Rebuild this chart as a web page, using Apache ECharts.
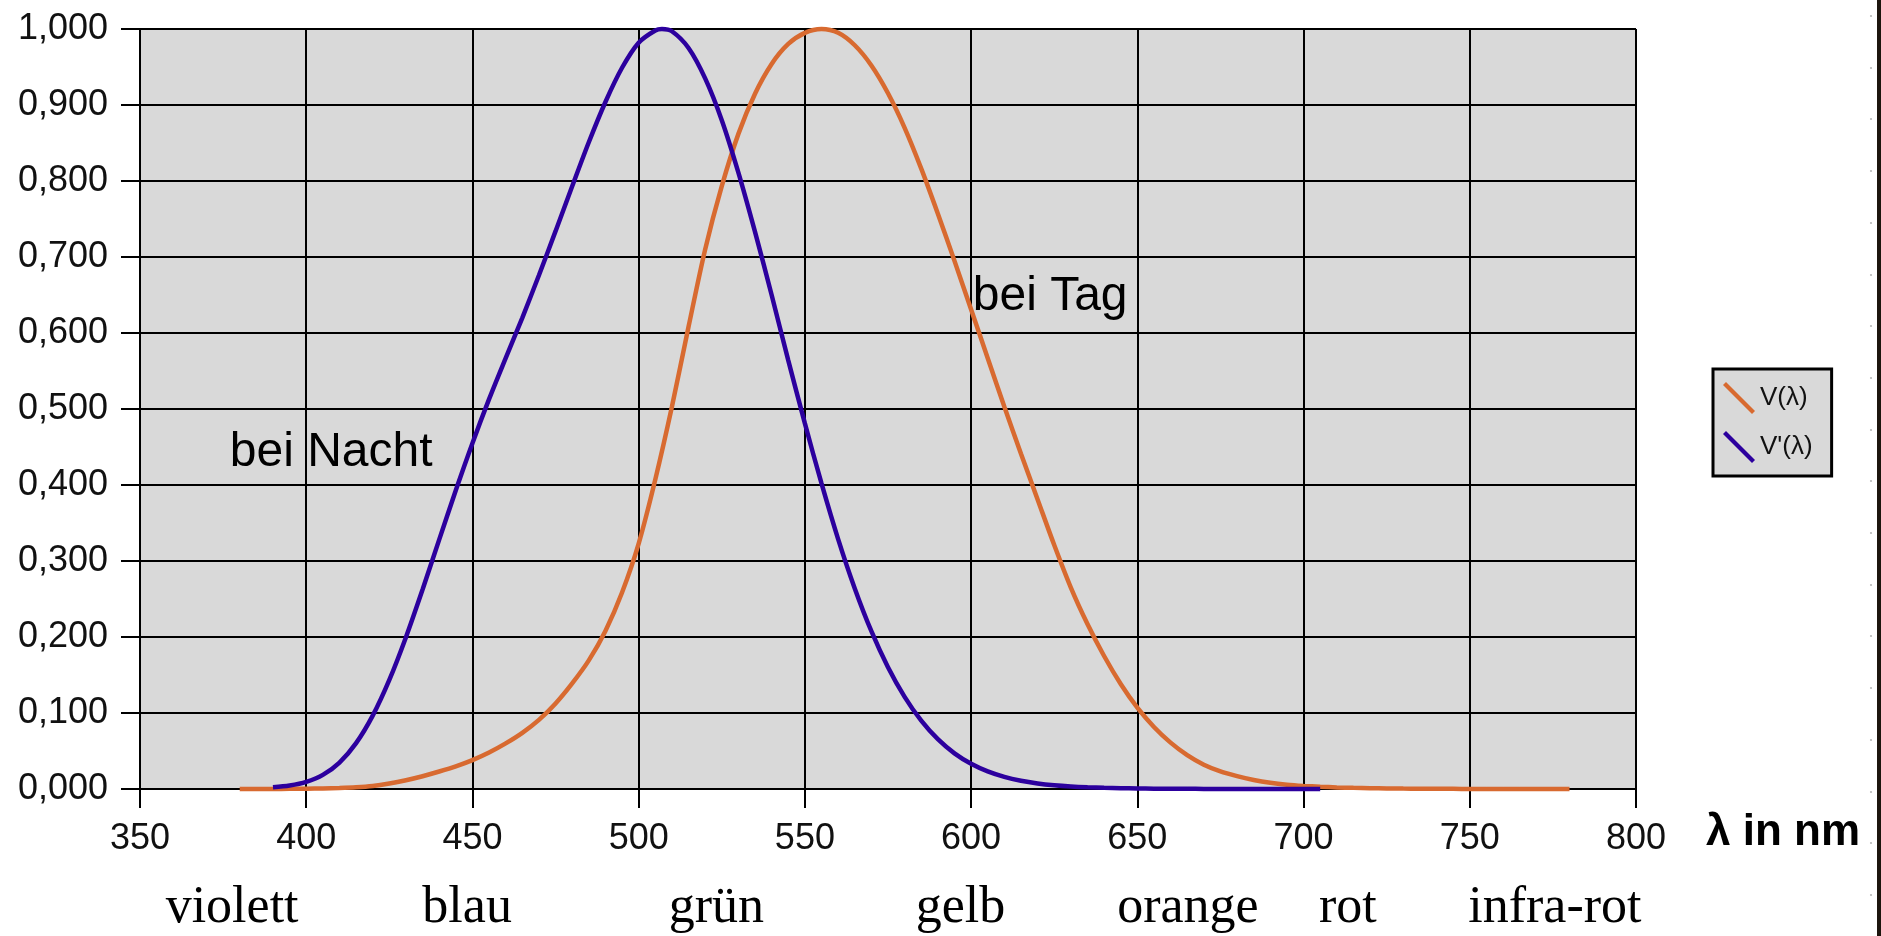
<!DOCTYPE html>
<html>
<head>
<meta charset="utf-8">
<title>Hellempfindlichkeitskurven V(λ) und V'(λ)</title>
<script src="https://cdn.jsdelivr.net/npm/echarts@6/dist/echarts.min.js"></script>
<style>
  html, body { margin: 0; padding: 0; background: #fff; }
  #chart { width: 1881px; height: 936px; }
</style>
</head>
<body>
<div id="chart"></div>
<script>
// Photopic luminous efficiency V(λ), daylight vision, 5 nm steps
const photopicNm = [380, 385, 390, 395, 400, 405, 410, 415, 420, 425, 430, 435, 440, 445, 450, 455, 460, 465, 470, 475,
  480, 485, 490, 495, 500, 505, 510, 515, 520, 525, 530, 535, 540, 545, 550, 555, 560, 565, 570, 575,
  580, 585, 590, 595, 600, 605, 610, 615, 620, 625, 630, 635, 640, 645, 650, 655, 660, 665, 670, 675,
  680, 685, 690, 695, 700, 705, 710, 715, 720, 725, 730, 735, 740, 745, 750, 755, 760, 765, 770, 775, 780];
const photopicV = [0.000039, 0.000064, 0.00012, 0.000217, 0.000396, 0.00064, 0.00121, 0.00218, 0.004, 0.0073,
  0.0116, 0.01684, 0.023, 0.0298, 0.038, 0.048, 0.06, 0.0739, 0.09098, 0.1126,
  0.13902, 0.1693, 0.20802, 0.2586, 0.323, 0.4073, 0.503, 0.6082, 0.71, 0.7932,
  0.862, 0.91485, 0.954, 0.9803, 0.99495, 1.0, 0.995, 0.9786, 0.952, 0.9154,
  0.87, 0.8163, 0.757, 0.6949, 0.631, 0.5668, 0.503, 0.4412, 0.381, 0.321,
  0.265, 0.217, 0.175, 0.1382, 0.107, 0.0816, 0.061, 0.04458, 0.032, 0.0232,
  0.017, 0.01192, 0.00821, 0.005723, 0.004102, 0.002929, 0.002091, 0.001484, 0.001047, 0.00074,
  0.00052, 0.000361, 0.000249, 0.000172, 0.00012, 0.0000848, 0.00006, 0.0000424, 0.00003, 0.0000212, 0.000015];

// Scotopic luminous efficiency V'(λ), night vision, 5 nm steps plus the 507 nm maximum
const scotopicNm = [390, 395, 400, 405, 410, 415, 420, 425, 430, 435, 440, 445, 450, 455, 460, 465, 470, 475,
  480, 485, 490, 495, 500, 505, 507, 510, 515, 520, 525, 530, 535, 540, 545, 550, 555, 560, 565, 570, 575,
  580, 585, 590, 595, 600, 605, 610, 615, 620, 625, 630, 635, 640, 645, 650, 655, 660, 665, 670, 675,
  680, 685, 690, 695, 700, 705];
const scotopicV = [0.002209, 0.00453, 0.00929, 0.01852, 0.03484, 0.0604, 0.0966, 0.1436, 0.1998, 0.2625,
  0.3281, 0.3931, 0.455, 0.513, 0.567, 0.62, 0.676, 0.734, 0.793, 0.851,
  0.904, 0.949, 0.982, 0.998, 1.0, 0.997, 0.975, 0.935, 0.88, 0.811, 0.733,
  0.65, 0.564, 0.481, 0.402, 0.3288, 0.2639, 0.2076, 0.1602, 0.1212, 0.0899,
  0.0655, 0.0469, 0.03315, 0.02312, 0.01593, 0.01088, 0.00737, 0.00497, 0.003335, 0.002235,
  0.001497, 0.001005, 0.000677, 0.000459, 0.000313, 0.000215, 0.000148, 0.000103, 0.000072, 0.00005,
  0.000035, 0.000025, 0.000018, 0.000012];

// Axis ticks
const xTicks = { min: 350, max: 800, step: 50 };
const yTicks = { min: 0, max: 1, step: 0.1 };

// Colour names below the wavelength axis (centre wavelength in nm)
const bandNames = ['violett', 'blau', 'grün', 'gelb', 'orange', 'rot', 'infra-rot'];
const bandCenters = [377.7, 448.4, 523.4, 596.8, 665.2, 713.3, 775.6];

// Curve annotations (anchor wavelength, anchor value)
const notes = [
  { text: 'bei Tag', nm: 600.5, value: 0.648 },
  { text: 'bei Nacht', nm: 377, value: 0.443 }
];

const seriesNames = ['V(λ)', "V'(λ)"];
const seriesColors = ['#d86a30', '#2c009e'];

const toPairs = (xs, ys) => xs.map((x, i) => [x, ys[i]]);

const chart = echarts.init(document.getElementById('chart'), null, { renderer: 'canvas' });

const axisStroke = { color: '#000', width: 2 };
const tickFont = { fontFamily: 'Liberation Sans, Arial, sans-serif', fontSize: 36, color: '#111' };

const option = {
  animation: false,
  backgroundColor: '#ffffff',
  grid: {
    left: 140, right: 245, top: 29, bottom: 147,
    show: true, backgroundColor: '#d9d9d9', borderWidth: 0
  },
  legend: {
    orient: 'vertical',
    left: 1713, top: 369,
    backgroundColor: '#d9d9d9',
    borderColor: '#000', borderWidth: 3,
    padding: [13, 19, 13, 10],
    itemGap: 17, itemWidth: 32, itemHeight: 32,
    icon: 'path://M0,3L3,0L32,29L29,32Z',
    textStyle: { fontFamily: 'Liberation Sans, Arial, sans-serif', fontSize: 26, color: '#111' },
    data: seriesNames
  },
  xAxis: [
    {
      type: 'value', position: 'bottom',
      min: xTicks.min, max: xTicks.max, interval: xTicks.step,
      axisLine: { show: true, onZero: false, lineStyle: axisStroke },
      axisTick: { show: true, inside: false, length: 19, lineStyle: axisStroke },
      axisLabel: Object.assign({ margin: 32 }, tickFont),
      splitLine: { show: true, lineStyle: axisStroke },
      name: 'λ in nm', nameLocation: 'end', nameGap: 70,
      nameTextStyle: {
        fontFamily: 'Liberation Sans, Arial, sans-serif', fontSize: 44, fontWeight: 'bold',
        color: '#000', align: 'left', verticalAlign: 'top', padding: [22, 0, 0, 0]
      }
    },
    {
      type: 'value', position: 'bottom',
      min: xTicks.min, max: xTicks.max,
      axisLine: { show: false }, axisTick: { show: false }, splitLine: { show: false },
      axisLabel: {
        customValues: bandCenters,
        formatter: (v) => {
          let best = 0;
          bandCenters.forEach((c, i) => { if (Math.abs(c - v) < Math.abs(bandCenters[best] - v)) best = i; });
          return bandNames[best];
        },
        margin: 93,
        fontFamily: 'Liberation Serif, Times New Roman, serif', fontSize: 52, color: '#000'
      }
    }
  ],
  yAxis: {
    type: 'value',
    min: yTicks.min, max: yTicks.max, interval: yTicks.step,
    axisLine: { show: true, lineStyle: axisStroke },
    axisTick: { show: true, inside: false, length: 19, lineStyle: axisStroke },
    axisLabel: Object.assign({ margin: 32, formatter: (v) => v.toFixed(3).replace('.', ',') }, tickFont),
    splitLine: { show: true, lineStyle: axisStroke }
  },
  series: [
    {
      name: seriesNames[0], type: 'line', showSymbol: false, clip: false,
      smooth: 0.3,
      data: toPairs(photopicNm, photopicV),
      lineStyle: { color: seriesColors[0], width: 4.5 },
      itemStyle: { color: seriesColors[0] }
    },
    {
      name: seriesNames[1], type: 'line', showSymbol: false, clip: false,
      smooth: 0.3,
      data: toPairs(scotopicNm, scotopicV),
      lineStyle: { color: seriesColors[1], width: 4.5 },
      itemStyle: { color: seriesColors[1] }
    }
  ]
};

chart.setOption(option);

// Annotation texts placed in data coordinates, plus the frame on the right edge
const graphics = notes.map((n) => {
  const [px, py] = chart.convertToPixel({ gridIndex: 0 }, [n.nm, n.value]);
  return {
    type: 'text', x: px, y: py, z: 10,
    style: {
      text: n.text, fill: '#000',
      font: '48px "Liberation Sans", Arial, sans-serif',
      align: 'left', verticalAlign: 'middle'
    }
  };
});
graphics.push({
  type: 'rect', z: 10,
  shape: { x: 1877, y: 0, width: 4, height: 936 },
  style: { fill: '#1d150e' }
});
for (let y = 16; y < 936; y += 51.7) {
  graphics.push({
    type: 'circle', z: 10,
    shape: { cx: 1871, cy: Math.round(y), r: 1.1 },
    style: { fill: '#b8b8b8' }
  });
}
chart.setOption({ graphic: graphics });
</script>
</body>
</html>
